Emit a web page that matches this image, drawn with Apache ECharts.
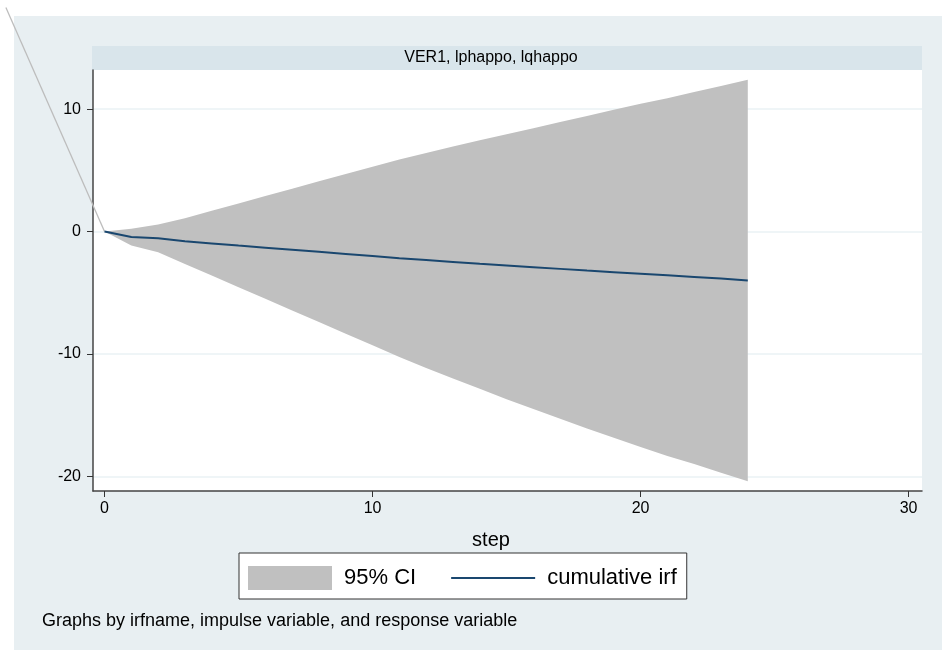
<!DOCTYPE html>
<html>
<head>
<meta charset="utf-8">
<script src="https://cdn.jsdelivr.net/npm/echarts@6/dist/echarts.min.js"></script>
<style>
  html, body { margin: 0; padding: 0; background: #fff; }
  #main { width: 942px; height: 650px; }
</style>
</head>
<body>
<div id="main"></div>
<script>
// irf data
var steps   = [0, 1, 2, 3, 4, 5, 6, 7, 8, 9, 10, 11, 12, 13, 14, 15, 16, 17, 18, 19, 20, 21, 22, 23, 24];
var ciUpper = [0, 0.22, 0.57, 1.09, 1.7, 2.3, 2.9, 3.5, 4.1, 4.7, 5.3, 5.88, 6.42, 6.94, 7.45, 7.95, 8.45, 8.95, 9.45, 9.95, 10.45, 10.9, 11.4, 11.9, 12.4];
var ciLower = [0, -1.15, -1.7, -2.65, -3.6, -4.55, -5.5, -6.45, -7.4, -8.35, -9.3, -10.25, -11.15, -12.0, -12.85, -13.7, -14.5, -15.3, -16.1, -16.85, -17.6, -18.35, -19.0, -19.7, -20.4];
var cumIrf  = [0, -0.45, -0.55, -0.8, -0.97, -1.15, -1.32, -1.49, -1.66, -1.83, -2.0, -2.18, -2.33, -2.48, -2.63, -2.77, -2.91, -3.05, -3.19, -3.32, -3.45, -3.58, -3.71, -3.84, -4.0];
// stray gray line going off the top-left
var strayLine = [[0, 0], [-3.68, 18.3]];

var xTicks = [0, 10, 20, 30];
var yTicks = [-20, -10, 0, 10];

var panelTitle = 'VER1, lphappo, lqhappo';
var xName = 'step';
var note = 'Graphs by irfname, impulse variable, and response variable';

var font = '"Liberation Sans", Arial, Helvetica, sans-serif';

function pairs(ys) {
    return steps.map(function (s, i) { return [s, ys[i]]; });
}

var myChart = echarts.init(document.getElementById('main'));

var option = {
    backgroundColor: '#fff',
    animation: false,
    textStyle: { fontFamily: font },
    graphic: {
        elements: [
            // light blue-gray outer panel
            { id: 'panel', type: 'rect', z: -100, shape: { x: 14, y: 16, width: 930, height: 636 }, style: { fill: '#e8eff2' } },
            // subtitle strip
            { id: 'strip', type: 'rect', z: -90, shape: { x: 92, y: 46, width: 830, height: 24 }, style: { fill: '#d9e5eb' } },
            { id: 'title', type: 'text', z: 10, x: 491, y: 58, style: { text: panelTitle, fill: '#000', font: '16px ' + font, align: 'center', verticalAlign: 'middle' } },
            { id: 'xname', type: 'text', z: 10, x: 491, y: 540, style: { text: xName, fill: '#000', font: '20px ' + font, align: 'center', verticalAlign: 'middle' } },
            { id: 'note', type: 'text', z: 10, x: 42, y: 621, style: { text: note, fill: '#000', font: '18px ' + font, align: 'left', verticalAlign: 'middle' } }
        ]
    },
    grid: {
        show: true,
        left: 93,
        right: 20,
        top: 70,
        bottom: 159,
        backgroundColor: '#fff',
        borderWidth: 0
    },
    legend: {
        left: 239,
        top: 553,
        orient: 'horizontal',
        backgroundColor: '#fff',
        borderColor: '#333',
        borderWidth: 1,
        borderRadius: 0,
        padding: [13, 10, 9, 9],
        itemWidth: 84,
        itemHeight: 24,
        itemGap: 34,
        textStyle: { fontSize: 22, color: '#000', fontFamily: font, padding: [0, 0, 0, 7] },
        data: [
            { name: '95% CI', icon: 'rect', itemStyle: { color: '#c0c0c0' } },
            { name: 'cumulative irf', itemStyle: { opacity: 0 } }
        ]
    },
    xAxis: {
        type: 'value',
        min: -0.43,
        max: 30.5,
        axisLine: { show: true, onZero: false, lineStyle: { color: '#444', width: 1.5 } },
        axisTick: { show: true, length: 6, customValues: xTicks, lineStyle: { color: '#333' } },
        axisLabel: { customValues: xTicks, fontSize: 16, color: '#000', margin: 10 },
        splitLine: { show: false }
    },
    yAxis: {
        type: 'value',
        min: -21.2,
        max: 13.2,
        axisLine: { show: true, onZero: false, lineStyle: { color: '#444', width: 1.5 } },
        axisTick: { show: true, length: 6, customValues: yTicks, lineStyle: { color: '#333' } },
        axisLabel: { customValues: yTicks, fontSize: 16, color: '#000', margin: 12 },
        splitLine: { show: true, lineStyle: { color: '#eaf2f4', width: 1.5 } }
    },
    series: [
        {
            // confidence band as one polygon: upper edge out, lower edge back
            name: '95% CI',
            type: 'custom',
            data: steps.map(function (s, i) { return [s, ciLower[i], ciUpper[i]]; }),
            encode: { x: 0, y: [1, 2] },
            silent: true,
            itemStyle: { color: '#c0c0c0' },
            renderItem: function (params, api) {
                if (params.dataIndex !== 0) return;
                var pts = [];
                for (var i = 0; i < steps.length; i++) {
                    pts.push(api.coord([steps[i], ciUpper[i]]));
                }
                for (var j = steps.length - 1; j >= 0; j--) {
                    pts.push(api.coord([steps[j], ciLower[j]]));
                }
                return { type: 'polygon', shape: { points: pts }, style: { fill: '#c0c0c0' } };
            }
        },
        {
            name: 'cumulative irf',
            type: 'line',
            data: pairs(cumIrf),
            symbol: 'none',
            z: 4,
            itemStyle: { color: '#1a476f' },
            lineStyle: { color: '#1a476f', width: 2 }
        }
    ]
};

myChart.setOption(option);

// the gray stray line leaves the plot area, so draw it on top via the axes' own scale
var strayPx = strayLine.map(function (p) { return myChart.convertToPixel({ gridIndex: 0 }, p); });
myChart.setOption({
    graphic: {
        elements: [
            { id: 'stray', type: 'polyline', z: 3, shape: { points: strayPx }, style: { stroke: '#bdbdbd', lineWidth: 1.3, fill: null } }
        ]
    }
});
</script>
</body>
</html>
